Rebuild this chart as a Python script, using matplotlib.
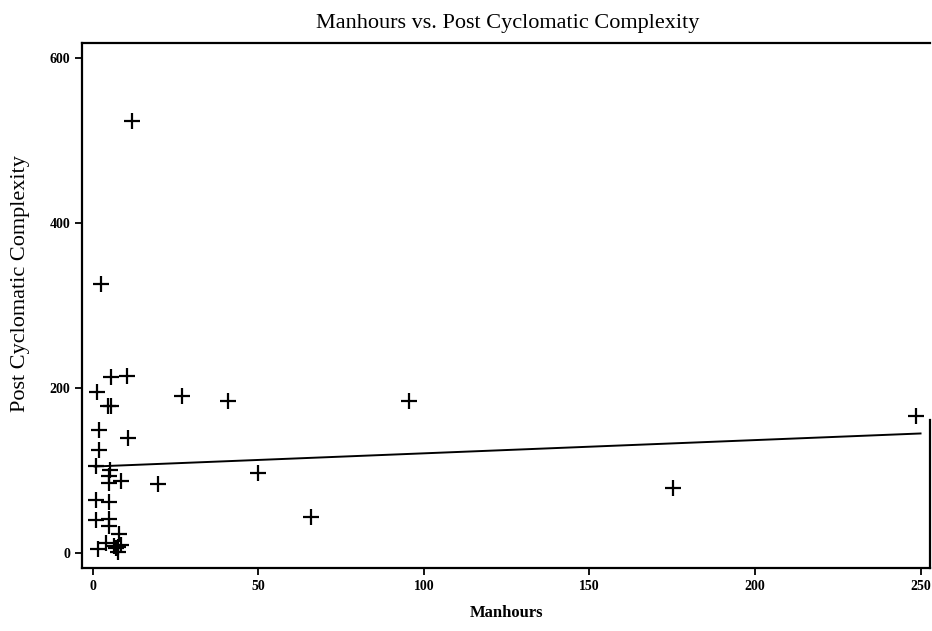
from matplotlib import pyplot as plt

# data
manhours = [11.8, 2.3, 5.6, 10.4, 1.2, 4.5, 5.6, 27, 40.8, 95.5, 248.7,
            1.7, 10.6, 1.7, 0.8, 5.2, 5, 8.6, 4.8, 19.6, 50, 0.8, 4.8,
            0.8, 4.8, 5, 8, 66, 175.3, 1.5, 4, 7.6, 7, 8.5, 7.5, 6.5]
post_cc = [524, 326, 214, 215, 195, 178.5, 178, 190, 184.6, 184, 165.6,
           149, 139, 125, 105, 101, 93, 88, 84.5, 84, 97, 64.6, 62,
           40, 41, 33, 23, 44, 79, 5, 12, 8, 6, 10, 1, 9]
# fitted line end points
fit_x = [0.5, 250]
fit_y = [105, 145]

xticks = [0, 50, 100, 150, 200, 250]
yticks = [0, 200, 400, 600]

fig = plt.figure(figsize=(9.32, 6.31), dpi=100)
ax = fig.add_axes([0.088, 0.0998, 0.91, 0.832])

ax.plot(manhours, post_cc, linestyle='none', marker='+', color='black',
        markersize=11, markeredgewidth=1.6)
ax.plot(fit_x, fit_y, color='black', linewidth=1.4)

ax.set_xlim(-3.3, 252.9)
ax.set_ylim(-18, 618)
ax.set_xticks(xticks)
ax.set_yticks(yticks)
ax.tick_params(direction='out', length=5, width=1.3, labelsize=10,
               top=False, right=False)
for lab in ax.get_xticklabels() + ax.get_yticklabels():
    lab.set_fontfamily('Liberation Serif')
    lab.set_fontweight('bold')

for s in ['left', 'bottom', 'top', 'right']:
    ax.spines[s].set_linewidth(1.6)
# the right border only shows in the lower part of the scan
ax.spines['right'].set_bounds(-18, 161)

fig.text(0.545, 0.962, 'Manhours vs. Post Cyclomatic Complexity',
         ha='center', va='center', fontsize=16, family='Liberation Serif')
ax.set_xlabel('Manhours', fontsize=12, family='Liberation Serif',
              fontweight='bold', labelpad=9)
ax.set_ylabel('Post Cyclomatic Complexity', fontsize=16,
              family='Liberation Serif')
ax.yaxis.set_label_coords(-0.061, 0.541)

plt.savefig('out.png', dpi=100)
